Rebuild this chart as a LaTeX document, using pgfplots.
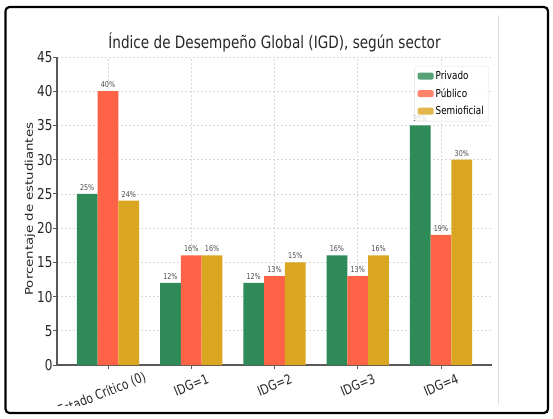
\documentclass[border=0pt]{standalone}
\usepackage{pgfplots}
\pgfplotsset{compat=1.18}
\usepackage{fontspec}
\setmainfont{DejaVu Sans}[FakeStretch=0.8]
\newfontfamily\ylabfont{DejaVu Sans}[FakeStretch=1.25]

\definecolor{privado}{HTML}{2E8B57}
\definecolor{publico}{HTML}{FF6347}
\definecolor{semiof}{HTML}{DAA520}

\begin{document}
\begin{tikzpicture}
\useasboundingbox (0pt,0pt) rectangle (553pt,418pt);
\begin{scope}
\clip (8pt,13pt) rectangle (497pt,410pt);
\begin{axis}[
    at={(57pt,53pt)}, anchor=south west,
    scale only axis, width=435pt, height=308pt,
    xmin=-0.6125, xmax=4.6125,
    ymin=0, ymax=45,
    ytick={0,5,...,45},
    xtick={0,1,2,3,4},
    xticklabels={{\hspace*{-18pt}\raisebox{-6pt}[\height][\depth]{Estado Crítico (0)}},{IDG=1},{IDG=2},{IDG=3},{IDG=4}},
    axis x line*=bottom, axis y line*=left,
    axis line style={black!65, line width=1.2pt},
    tick align=outside, major tick length=4pt,
    tick style={black!65, line width=0.8pt},
    grid=major,
    major grid style={gray!30, line width=0.6pt, dash pattern=on 2pt off 2pt},
    /pgf/number format/assume math mode=true,
    ticklabel style={text=black!85},
    yticklabel style={font=\fontsize{15}{15}\selectfont, xshift=3pt},
    xticklabel style={font=\fontsize{13.5}{13.5}\selectfont, rotate=22, anchor=center},
    xticklabel shift=16pt,
    title={Índice de Desempeño Global (IGD), según sector},
    title style={font=\fontsize{17}{17}\selectfont, text=black!85, at={(0.5,1)}, anchor=base, yshift=3pt},
    ylabel={Porcentaje de estudiantes},
    ylabel style={font=\ylabfont\fontsize{10.64}{11}\selectfont, text=black!85, at={(axis description cs:-0.062,0.506)}, anchor=center},
    ybar, bar width=0.25,
    nodes near coords={\pgfmathprintnumber{\pgfplotspointmeta}\%},
    nodes near coords style={font=\fontsize{8}{8}\selectfont, text=black!70},
    legend cell align=left,
    legend image code/.code={\fill[#1] (0pt,-3.5pt) rectangle (16pt,3.5pt);},
    legend style={at={(0.993,0.971)}, anchor=north east, draw=gray!25,
        fill=white, fill opacity=0.8, text opacity=1, rounded corners=2pt,
        font=\fontsize{11}{11}\selectfont, row sep=3.5pt, inner sep=3pt},
]
\addplot[fill=privado, draw=none, bar shift=-0.25] coordinates {(0,25) (1,12) (2,12) (3,16) (4,35)};
\addlegendentry{Privado}
\addplot[fill=publico, draw=none, bar shift=0] coordinates {(0,40) (1,16) (2,13) (3,13) (4,19)};
\addlegendentry{Público}
\addplot[fill=semiof, draw=none, bar shift=0.25] coordinates {(0,24) (1,16) (2,15) (3,16) (4,30)};
\addlegendentry{Semioficial}
\end{axis}
\end{scope}
\draw[gray!25, line width=1pt] (498pt,13pt) -- (498pt,403pt);
\draw[black, line width=2.2pt, rounded corners=4pt] (5.5pt,5pt) rectangle (548pt,411pt);
\end{tikzpicture}
\end{document}
